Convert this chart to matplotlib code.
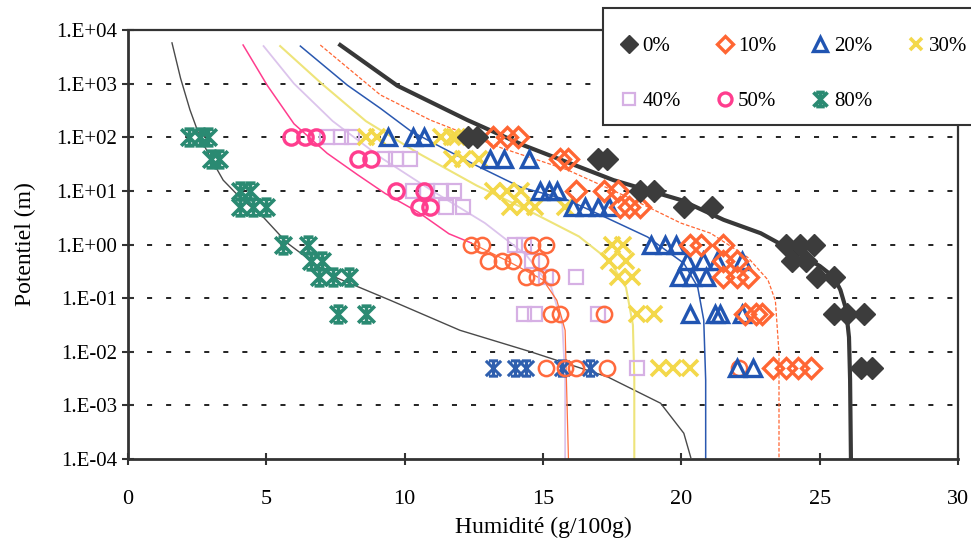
import numpy as np
import matplotlib
matplotlib.use("Agg")
import matplotlib.pyplot as plt
from matplotlib.path import Path
from matplotlib.patches import Rectangle

# potential levels (m) used for the measured points
pot_rows = [100, 40, 10, 5, 1, 0.5, 0.25, 0.05, 0.005]

# measured humidity (g/100g) for each level, one list per series
hum_0 = [[12.3, 12.6], [17.0, 17.3], [18.5, 19.0], [20.1, 21.1], [23.8, 24.3, 24.8],
         [24.0, 24.5], [24.9, 25.5], [25.5, 26.0, 26.6], [26.5, 26.9]]
hum_10 = [[13.2, 13.7, 14.1], [15.6, 15.9], [16.2, 17.2, 17.7], [17.8, 18.1, 18.5],
          [20.3, 20.7, 21.5], [21.5, 22.0], [21.5, 22.0, 22.4], [22.3, 22.7, 22.9],
          [23.3, 23.8, 24.2, 24.7]]
hum_20 = [[9.4, 10.3, 10.7], [13.1, 13.6, 14.5], [14.9, 15.2, 15.5], [16.1, 16.5, 17.0, 17.4],
          [18.9, 19.4, 19.8], [20.2, 20.8, 21.3, 22.2], [19.9, 20.4, 20.9],
          [20.3, 21.2, 21.4, 22.2], [22.0, 22.6]]
hum_30 = [[8.6, 9.0, 11.3, 11.7, 11.9], [11.7, 12.1, 12.7], [13.2, 13.7, 14.2],
          [13.8, 14.3, 14.7, 15.8], [17.5, 17.9], [17.4, 18.0], [17.7, 18.2], [18.4, 19.0],
          [19.2, 19.7, 20.3]]
hum_40 = [[7.2, 7.7, 8.1], [9.3, 9.7, 10.2], [10.3, 10.8, 11.3, 11.8], [11.5, 12.1],
          [14.0, 14.3], [14.6], [15.1, 16.2], [14.3, 14.7, 17.0], [18.4]]
hum_50 = [[5.9, 6.4, 6.8], [8.3, 8.8], [9.7, 10.7], [10.5, 10.9], [12.4, 12.8, 14.6, 15.1],
          [13.0, 13.5, 13.9, 14.9], [14.4, 14.8, 15.3], [15.3, 15.6, 17.2],
          [15.1, 15.8, 16.2, 17.3, 22.1]]
hum_80 = [[2.2, 2.6, 2.9], [3.0, 3.3], [4.05, 4.4], [4.05, 4.5, 5.0], [5.6, 6.5],
          [6.6, 7.0], [6.9, 7.4, 8.0], [7.6, 8.6], [13.2, 14.0, 14.4, 15.7, 16.7]]

# fitted retention curves: (humidity, log10 potential)
curve_0_x = [7.67, 9.74, 12.27, 14.30, 17.55, 19.98, 21.53, 22.87, 24.32, 25.0, 25.52, 25.75, 25.95, 26.06, 26.10, 26.13]
curve_0_y = [3.72, 2.96, 2.32, 1.85, 1.20, 0.83, 0.46, 0.21, -0.20, -0.40, -0.61, -0.85, -1.20, -1.73, -2.53, -4.0]
curve_10_x = [6.95, 9.12, 10.93, 13.5, 15.89, 18.2, 19.98, 21.06, 22.40, 23.13, 23.40, 23.53, 23.53]
curve_10_y = [3.72, 2.79, 2.32, 1.80, 1.39, 0.85, 0.40, 0.21, -0.24, -0.66, -1.05, -2.03, -4.0]
curve_20_x = [6.23, 7.93, 9.12, 10.21, 11.04, 12.6, 14.19, 15.89, 17.08, 18.78, 20.09, 20.59, 20.81, 20.88, 20.88]
curve_20_y = [3.70, 2.97, 2.54, 2.12, 1.89, 1.47, 1.07, 0.83, 0.55, 0.14, -0.35, -0.79, -1.41, -2.53, -4.0]
curve_30_x = [5.5, 7.0, 8.6, 10.5, 12.6, 14.6, 16.3, 17.4, 18.0, 18.25, 18.3, 18.3]
curve_30_y = [3.7, 3.0, 2.3, 1.7, 1.1, 0.6, 0.15, -0.3, -0.8, -1.5, -2.5, -4.0]
curve_40_x = [4.9, 6.0, 7.4, 9.2, 11.0, 12.9, 14.4, 15.3, 15.7, 15.8, 15.8]
curve_40_y = [3.7, 3.0, 2.3, 1.6, 1.0, 0.4, -0.2, -0.8, -1.5, -2.5, -4.0]
curve_50_x = [4.16, 5.03, 6.0, 7.2, 8.3, 9.3, 10.5, 11.6, 12.4, 13.8, 15.0, 15.5, 15.8, 15.92]
curve_50_y = [3.72, 2.97, 2.25, 1.7, 1.3, 0.95, 0.6, 0.2, 0.03, -0.33, -0.66, -1.04, -1.6, -4.0]
curve_80_x = [1.59, 1.9, 2.24, 2.6, 3.0, 3.44, 4.1, 4.89, 5.75, 7.3, 9.48, 12.0, 14.55, 17.34, 19.25, 20.09, 20.34]
curve_80_y = [3.76, 3.10, 2.51, 2.0, 1.6, 1.20, 0.85, 0.51, 0.03, -0.57, -1.04, -1.6, -2.0, -2.47, -2.96, -3.52, -3.97]

labels = ["0%", "10%", "20%", "30%", "40%", "50%", "80%"]
ytick_vals = [1e-4, 1e-3, 1e-2, 1e-1, 1e0, 1e1, 1e2, 1e3, 1e4]
ytick_labels = ["1.E-04", "1.E-03", "1.E-02", "1.E-01", "1.E+00", "1.E+01", "1.E+02", "1.E+03", "1.E+04"]
xticks = [0, 5, 10, 15, 20, 25, 30]


def flatten(rows):
    xs, ys = [], []
    for p, r in zip(pot_rows, rows):
        for v in r:
            xs.append(v)
            ys.append(p)
    return np.array(xs), np.array(ys)


plt.rcParams["font.family"] = ["Liberation Serif", "DejaVu Serif"]

# excel-like star marker
star = Path([(-1, -1), (1, 1), (-1, 1), (1, -1), (0, -1), (0, 1),
             (-0.6, 1), (0.6, 1), (-0.6, -1), (0.6, -1)],
            [Path.MOVETO, Path.LINETO] * 5)

fig = plt.figure(figsize=(9.71, 5.47), dpi=100)
ax = fig.add_axes([128 / 971, 1 - 459 / 547, 830 / 971, 429 / 547])
ax.set_yscale("log")
ax.set_xlim(0, 30)
ax.set_ylim(1e-4, 1e4)

for v in ytick_vals[1:-1]:
    ax.axhline(v, color="#222222", lw=1.4, ls=(0, (2.6, 7.2)), zorder=1)

# curves
ax.plot(curve_80_x, 10 ** np.array(curve_80_y), color="#4a4a4a", lw=1.0, zorder=2)
ax.plot(curve_40_x, 10 ** np.array(curve_40_y), color="#dcc4ec", lw=1.3, zorder=2)
ax.plot(curve_30_x, 10 ** np.array(curve_30_y), color="#eee47a", lw=1.5, zorder=2)
ax.plot(curve_50_x[:9], 10 ** np.array(curve_50_y[:9]), color="#ff3d8e", lw=1.1, zorder=2)
ax.plot(curve_50_x[8:], 10 ** np.array(curve_50_y[8:]), color="#ff7040", lw=0.9, zorder=2)
ax.plot(curve_20_x, 10 ** np.array(curve_20_y), color="#2a58b0", lw=1.1, zorder=2)
ax.plot(curve_10_x, 10 ** np.array(curve_10_y), color="#ff6633", lw=0.9, ls=(0, (3, 1.5)), zorder=2)
ax.plot(curve_0_x, 10 ** np.array(curve_0_y), color="#383838", lw=3.0, zorder=2)

x, y = flatten(hum_80)
low = y < 0.01
h80, = ax.plot(x[~low], y[~low], ls="none", marker=star, ms=12, mew=2.6, color="#2a8a72", zorder=3)
ax.plot(x[low], y[low], ls="none", marker=star, ms=11, mew=2.2, color="#2f5fae", zorder=3)

x, y = flatten(hum_40)
h40, = ax.plot(x, y, ls="none", marker="s", ms=10, mew=1.6, mfc="none", color="#d6b0e4", zorder=3)

x, y = flatten(hum_50)
up = y > 2
h50, = ax.plot(x[up], y[up], ls="none", marker="o", ms=11, mew=2.4, mfc="none", color="#ff3d8e", zorder=3)
ax.plot(x[~up], y[~up], ls="none", marker="o", ms=11, mew=1.8, mfc="none", color="#ff6a3d", zorder=3)

x, y = flatten(hum_30)
h30, = ax.plot(x, y, ls="none", marker="x", ms=11, mew=2.6, color="#f3d84a", zorder=3)

x, y = flatten(hum_20)
h20, = ax.plot(x, y, ls="none", marker="^", ms=12, mew=2.4, mfc="none", color="#2155b2", zorder=4)

x, y = flatten(hum_10)
h10, = ax.plot(x, y, ls="none", marker="D", ms=10, mew=2.4, mfc="none", color="#ff6633", zorder=4)

x, y = flatten(hum_0)
h0, = ax.plot(x, y, ls="none", marker="D", ms=11, color="#3c3c3c", zorder=5)

ax.set_xticks(xticks)
ax.set_yticks(ytick_vals, ytick_labels)
ax.yaxis.set_minor_locator(matplotlib.ticker.NullLocator())
ax.tick_params(axis="both", direction="inout", length=8, width=1.5, color="#333333")
ax.tick_params(axis="y", labelsize=15, pad=4)
ax.tick_params(axis="x", labelsize=16, pad=18)
for s in ax.spines.values():
    s.set_linewidth(2.0)
    s.set_color("#333333")
    s.set_zorder(6)
ax.spines["top"].set_linewidth(1.6)
ax.spines["right"].set_linewidth(1.6)

ax.set_xlabel("Humidité (g/100g)", fontsize=17, labelpad=6)
ax.set_ylabel("Potentiel (m)", fontsize=17, labelpad=14)

# legend with its own frame (box runs past the right edge of the page)
fig.patches.append(Rectangle((603 / 971, 1 - 125 / 547), 380 / 971, 117 / 547,
                             transform=fig.transFigure, fc="white", ec="#333333", lw=1.5, zorder=10))
order = [h0, h40, h10, h50, h20, h80, h30]
order_lab = ["0%", "40%", "10%", "50%", "20%", "80%", "30%"]
leg = fig.legend(order, order_lab, loc="upper left", bbox_to_anchor=(606 / 971, 1 - 22 / 547),
                 ncol=4, frameon=False, fontsize=15, handlelength=0.8, handletextpad=0.25,
                 columnspacing=1.7, labelspacing=1.7, borderpad=0.2, markerscale=0.85)
leg.set_zorder(11)

fig.savefig("out.png", dpi=100)
